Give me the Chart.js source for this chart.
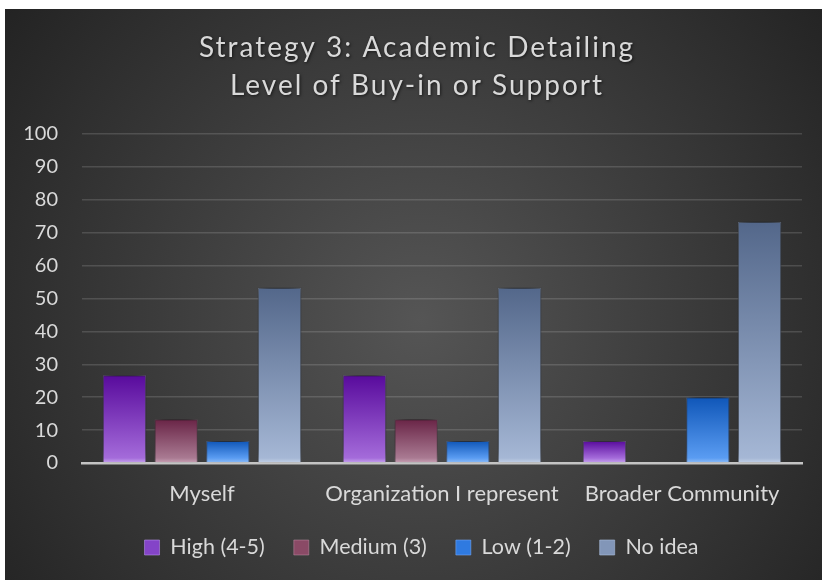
<!DOCTYPE html>
<html>
<head>
<meta charset="utf-8">
<script src="https://cdn.jsdelivr.net/npm/chart.js@4.4.1/dist/chart.umd.min.js"></script>
<style>
html,body{margin:0;padding:0;background:#ffffff;}
#wrap{position:relative;width:825px;height:580px;}
</style>
</head>
<body>
<div id="wrap"><canvas id="c"></canvas></div>
<script>
// ---- data ----
const titleLines = ['Strategy 3: Academic Detailing', 'Level of Buy-in or Support'];
const categories = ['Myself', 'Organization I represent', 'Broader Community'];
const seriesNames = ['High (4-5)', 'Medium (3)', 'Low (1-2)', 'No idea'];
const highValues = [26.7, 26.7, 6.7];
const mediumValues = [13.3, 13.3, 0];
const lowValues = [6.7, 6.7, 20];
const noIdeaValues = [53.3, 53.3, 73.3];
const yTickMin = 0;
const yTickMax = 100;
const yTickStep = 10;

// ---- styles ----
const FONT = 'Lato';
const TEXT = '#d9d9d9';
const palette = [
  {top: '#580a9c', bottom: '#a46bda', glow: '#c7a6ee', legend: '#8444c8', border: 'rgba(190,150,240,0.55)'},
  {top: '#692446', bottom: '#a97a92', glow: '#c9a3b6', legend: '#8a4a66', border: 'rgba(200,150,175,0.45)'},
  {top: '#0f56b8', bottom: '#5a9cf2', glow: '#8fbdf7', legend: '#2f7ae0', border: 'rgba(120,170,245,0.55)'},
  {top: '#53678a', bottom: '#a5b7d5', glow: '#c4d1e6', legend: '#8296b8', border: 'rgba(170,190,220,0.6)'}
];

function barGradient(p) {
  return (ctx) => {
    const chart = ctx.chart;
    const ys = chart.scales && chart.scales.y;
    if (!ys || ctx.type !== 'data') return p.legend;
    const y0 = ys.getPixelForValue(0);
    const y1 = ys.getPixelForValue(ctx.raw);
    if (!isFinite(y0) || !isFinite(y1) || y0 === y1) return p.legend;
    const g = chart.ctx.createLinearGradient(0, y1, 0, y0);
    g.addColorStop(0, p.top);
    g.addColorStop(Math.max(0, 1 - 5 / (y0 - y1)), p.bottom);
    g.addColorStop(1, p.glow);
    return g;
  };
}

const seriesValues = [highValues, mediumValues, lowValues, noIdeaValues];
const datasets = seriesNames.map((name, i) => ({
  label: name,
  data: seriesValues[i],
  backgroundColor: barGradient(palette[i]),
  borderColor: palette[i].border,
  borderWidth: (ctx) => (ctx.raw ? 1 : 0),
  categoryPercentage: 0.862,
  barPercentage: 0.84
}));

const bgPlugin = {
  id: 'bgPlugin',
  beforeDraw(chart) {
    const c = chart.ctx;
    c.save();
    c.fillStyle = '#ffffff';
    c.fillRect(0, 0, chart.width, chart.height);
    const g = c.createRadialGradient(420, 320, 0, 420, 320, 560);
    g.addColorStop(0, '#555555');
    g.addColorStop(1, '#1f1f1f');
    c.fillStyle = g;
    c.fillRect(5, 9, 817, chart.height - 9);
    c.restore();
  },
  afterDraw(chart) {
    const c = chart.ctx;
    c.save();
    c.font = '28px ' + FONT;
    c.fillStyle = TEXT;
    c.textAlign = 'center';
    c.textBaseline = 'alphabetic';
    try { c.letterSpacing = '2px'; } catch (e) {}
    c.shadowColor = 'rgba(0,0,0,0.6)';
    c.shadowBlur = 3;
    c.shadowOffsetX = 1;
    c.shadowOffsetY = 1;
    c.fillText(titleLines[0], 417, 57);
    c.fillText(titleLines[1], 417, 95);
    c.restore();
  }
};

const shadowPlugin = {
  id: 'barShadow',
  beforeDatasetDraw(chart) {
    const c = chart.ctx;
    c.save();
    c.shadowColor = 'rgba(0,0,0,0.9)';
    c.shadowBlur = 14;
    c.shadowOffsetX = 0;
    c.shadowOffsetY = -4;
  },
  afterDatasetDraw(chart) {
    chart.ctx.restore();
  }
};

const legendShift = {
  id: 'legendShift',
  afterLayout(chart) {
    if (chart.legend) {
      chart.legend.left += 18;
      chart.legend.right += 18;
    }
  }
};

Chart.defaults.font.family = FONT;
Chart.defaults.color = TEXT;

new Chart(document.getElementById('c'), {
  type: 'bar',
  data: {labels: categories, datasets: datasets},
  options: {
    responsive: true,
    maintainAspectRatio: false,
    animation: false,
    devicePixelRatio: 1,
    layout: {padding: {left: 5, right: 23, top: 134, bottom: 11.75}},
    plugins: {
      title: {display: false},
      tooltip: {enabled: false},
      legend: {
        display: true,
        position: 'bottom',
        labels: {
          color: TEXT,
          font: {size: 21.5, family: FONT},
          boxWidth: 15,
          boxHeight: 15,
          padding: 29,
          generateLabels(chart) {
            return chart.data.datasets.map((ds, i) => ({
              text: ds.label,
              fillStyle: palette[i].legend,
              strokeStyle: palette[i].border,
              lineWidth: 1,
              fontColor: TEXT,
              hidden: false,
              datasetIndex: i
            }));
          }
        }
      }
    },
    scales: {
      x: {
        grid: {display: false, drawTicks: false},
        border: {display: true, color: '#c4c4c4', width: 2.5},
        ticks: {color: TEXT, font: {size: 22, family: FONT}, padding: 17.8, maxRotation: 0, autoSkip: false},
        afterFit(s) { s.height = 44.75; }
      },
      y: {
        min: yTickMin,
        max: yTickMax,
        grid: {
          color: (ctx) => (ctx.tick && ctx.tick.value === 0 ? 'rgba(0,0,0,0)' : 'rgba(255,255,255,0.14)'),
          lineWidth: 1.5,
          drawTicks: false
        },
        border: {display: false},
        ticks: {stepSize: yTickStep, color: TEXT, font: {size: 20, family: FONT}, padding: 24},
        afterFit(s) { s.width = 77; }
      }
    }
  },
  plugins: [bgPlugin, shadowPlugin, legendShift]
});
</script>
</body>
</html>
